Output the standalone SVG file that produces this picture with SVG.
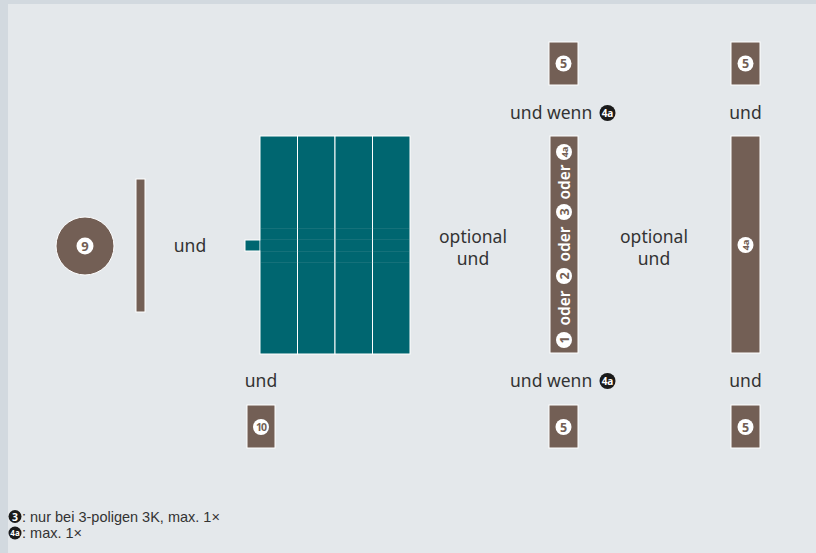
<svg xmlns="http://www.w3.org/2000/svg" width="816" height="553" viewBox="0 0 816 553">
<style>
.lbl{font-family:"Noto Sans","Open Sans","Liberation Sans",sans-serif;font-size:17.5px;fill:#333;}
.leg{font-family:"Liberation Sans","Noto Sans",sans-serif;font-size:14.5px;fill:#333;}
.br{fill:#735f55;stroke:#fff;stroke-width:1;}
.tl{fill:#006670;stroke:#fff;stroke-width:1;}
.wc{fill:#fff;}
.bc{fill:#1a1a1a;}
.bn{font-family:"Noto Sans","Liberation Sans",sans-serif;font-weight:bold;fill:#735f55;text-anchor:middle;}
.wn{font-family:"Noto Sans","Liberation Sans",sans-serif;font-weight:bold;fill:#fff;text-anchor:middle;}
.od{font-family:"Noto Sans","Open Sans","Liberation Sans",sans-serif;font-weight:600;font-size:15.5px;fill:#fff;text-anchor:middle;}
</style>
<rect width="816" height="553" fill="#d2d9df"/>
<rect x="8" y="4" width="808" height="549" fill="#e4e8eb"/>

<g id="n9">
<circle cx="85" cy="246" r="29" class="br"/>
<circle cx="85" cy="246" r="8.5" class="wc"/>
<text x="85" y="250.5" class="bn" font-size="13">9</text>
</g>
<g id="bar-left"><rect x="136" y="179" width="9" height="133" class="br"/></g>
<text class="lbl" x="190" y="252" text-anchor="middle">und</text>

<g id="teal-block">
<rect x="245" y="240" width="17" height="11" class="tl"/>
<rect x="260" y="136" width="37.5" height="218" class="tl"/>
<rect x="297.5" y="136" width="37.5" height="218" class="tl"/>
<rect x="335" y="136" width="37.5" height="218" class="tl"/>
<rect x="372.5" y="136" width="37.5" height="218" class="tl"/>
<rect x="260.5" y="240.5" width="2" height="10" fill="#006670"/>
<g stroke="#8fb3b8" stroke-width="0.5" opacity="0.3">
<line x1="260" y1="228.5" x2="410" y2="228.5"/>
<line x1="260" y1="239.5" x2="410" y2="239.5"/>
<line x1="260" y1="251.5" x2="410" y2="251.5"/>
<line x1="260" y1="262.5" x2="410" y2="262.5"/>
</g>
</g>

<text class="lbl" x="473" y="243" text-anchor="middle">optional</text>
<text class="lbl" x="473" y="265" text-anchor="middle">und</text>

<g id="bar-oder">
<rect x="550" y="136" width="28" height="217" class="br"/>
<g transform="translate(564,340) rotate(-90)">
<circle cx="0" cy="0" r="8" class="wc"/><text x="0" y="4.5" class="bn" font-size="12.5">1</text>
<text x="32" y="5.5" class="od">oder</text>
<circle cx="64" cy="0" r="8" class="wc"/><text x="64" y="4.5" class="bn" font-size="12.5">2</text>
<text x="96" y="5.5" class="od">oder</text>
<circle cx="128" cy="0" r="8" class="wc"/><text x="128" y="4.5" class="bn" font-size="12.5">3</text>
<text x="158" y="5.5" class="od">oder</text>
<circle cx="188" cy="0" r="8" class="wc"/><text x="188" y="3.5" class="bn" font-size="9.5">4a</text>
</g>
</g>

<text class="lbl" x="654" y="243" text-anchor="middle">optional</text>
<text class="lbl" x="654" y="265" text-anchor="middle">und</text>

<g id="bar-4a">
<rect x="731" y="136" width="29" height="217" class="br"/>
<g transform="translate(745.5,245) rotate(-90)">
<circle cx="0" cy="0" r="8" class="wc"/><text x="0" y="3.5" class="bn" font-size="9.5">4a</text>
</g>
</g>

<g id="n5-top-a"><rect x="549" y="42" width="29" height="43" class="br"/><circle cx="563.5" cy="63.5" r="8" class="wc"/><text x="563.5" y="68" class="bn" font-size="12.5">5</text></g>
<g id="n5-top-b"><rect x="731" y="42" width="29" height="43" class="br"/><circle cx="745.5" cy="63.5" r="8" class="wc"/><text x="745.5" y="68" class="bn" font-size="12.5">5</text></g>

<text class="lbl" x="510" y="119">und wenn</text>
<g id="c4a-top"><circle cx="607.5" cy="113" r="8" class="bc"/><text x="607.5" y="116.5" class="wn" font-size="10">4a</text></g>
<text class="lbl" x="745.5" y="119" text-anchor="middle">und</text>

<text class="lbl" x="261" y="387" text-anchor="middle">und</text>
<text class="lbl" x="510" y="387">und wenn</text>
<g id="c4a-bot"><circle cx="607.5" cy="381" r="8" class="bc"/><text x="607.5" y="384.5" class="wn" font-size="10">4a</text></g>
<text class="lbl" x="745.5" y="387" text-anchor="middle">und</text>

<g id="n10"><rect x="247" y="405" width="28" height="43" class="br"/><circle cx="261" cy="427" r="8" class="wc"/><text x="261" y="431" class="bn" font-size="10.5" letter-spacing="-1">10</text></g>
<g id="n5-bot-a"><rect x="549" y="405" width="29" height="43" class="br"/><circle cx="563.5" cy="427" r="8" class="wc"/><text x="563.5" y="431.5" class="bn" font-size="12.5">5</text></g>
<g id="n5-bot-b"><rect x="731" y="405" width="29" height="43" class="br"/><circle cx="745.5" cy="427" r="8" class="wc"/><text x="745.5" y="431.5" class="bn" font-size="12.5">5</text></g>

<g id="legend">
<circle cx="15" cy="516.5" r="6.5" class="bc"/><text x="15" y="520.5" class="wn" font-size="10.5">3</text>
<text class="leg" x="22" y="521.5">: nur bei 3-poligen 3K, max. 1×</text>
<circle cx="15" cy="533" r="6.5" class="bc"/><text x="15" y="536.3" class="wn" font-size="8">4a</text>
<text class="leg" x="22" y="537.5">: max. 1×</text>
</g>
</svg>
